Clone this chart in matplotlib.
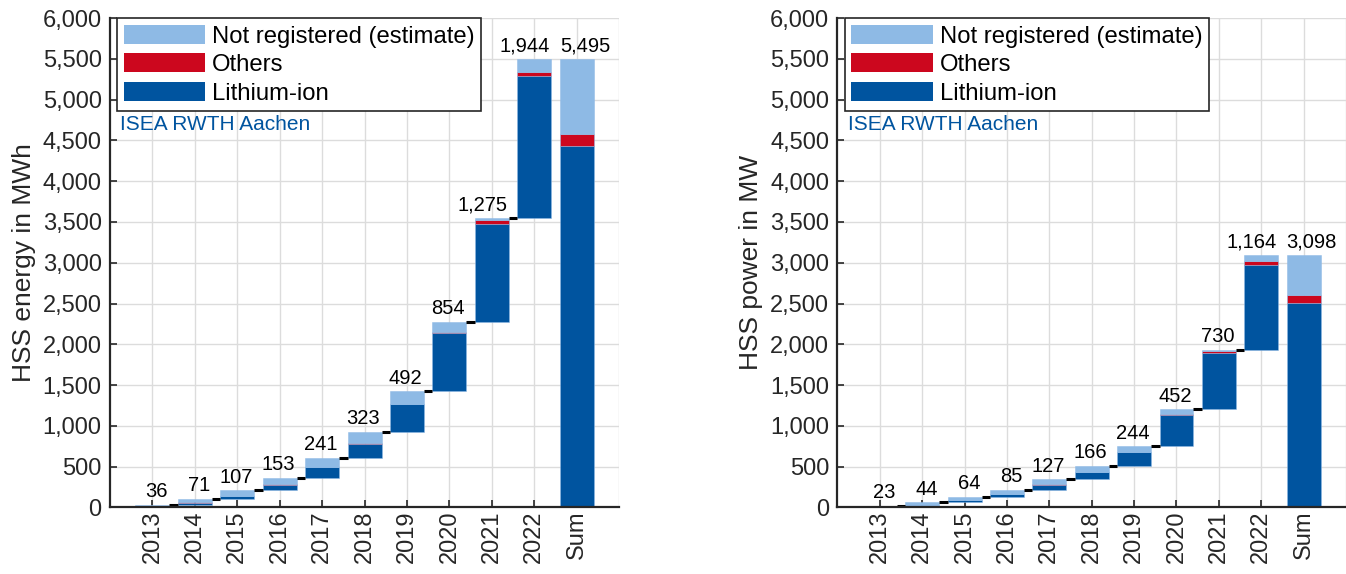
import numpy as np
import matplotlib
matplotlib.use('Agg')
import matplotlib.pyplot as plt
from matplotlib.ticker import FuncFormatter, MultipleLocator
from matplotlib.patches import Patch

plt.rcParams['font.family'] = ['Liberation Sans', 'DejaVu Sans']

years = ['2013', '2014', '2015', '2016', '2017', '2018', '2019', '2020', '2021', '2022']
sum_label = 'Sum'

# Energy (MWh) per year: Lithium-ion, Others, Not registered (estimate)
energy_li = [10, 22, 36, 67, 126, 176, 335, 715, 1202, 1736]
energy_others = [8, 3, 3, 3, 4, 5, 7, 15, 40, 55]
energy_nr = [18, 46, 68, 83, 111, 142, 150, 124, 33, 153]
energy_sum = [4430, 150, 915]   # Li-ion, Others, Not registered

# Power (MW) per year
power_li = [6, 10, 20, 37, 65, 87, 166, 377, 688, 1042]
power_others = [2, 2, 2, 2, 2, 2, 3, 12, 20, 40]
power_nr = [15, 32, 42, 46, 60, 77, 75, 63, 22, 82]
power_sum = [2505, 95, 498]

legend_labels = ['Not registered (estimate)', 'Others', 'Lithium-ion']
source_text = 'ISEA RWTH Aachen'

C_LIGHT = '#8EBAE5'
C_RED = '#CC071E'
C_DARK = '#00549F'
GRID = '#DCDCDC'
AXC = '#262626'


def panel(ax, li, ot, nr, sm, ylabel):
    li = np.array(li, float); ot = np.array(ot, float); nr = np.array(nr, float)
    n = len(years)
    x = np.arange(1, n + 1)
    tot = li + ot + nr
    start = np.concatenate([[0], np.cumsum(tot)[:-1]])
    w = 0.8
    ek = dict(edgecolor=(0.56, 0.73, 0.9, 0.6), linewidth=0.6, zorder=3)
    ax.bar(x, li, bottom=start, width=w, color=C_DARK, **ek)
    ax.bar(x, ot, bottom=start + li, width=w, color=C_RED, **ek)
    ax.bar(x, nr, bottom=start + li + ot, width=w, color=C_LIGHT, **ek)
    xs = n + 1
    ax.bar(xs, sm[0], bottom=0, width=w, color=C_DARK, **ek)
    ax.bar(xs, sm[1], bottom=sm[0], width=w, color=C_RED, **ek)
    ax.bar(xs, sm[2], bottom=sm[0] + sm[1], width=w, color=C_LIGHT, **ek)
    for i in range(n - 1):
        yv = start[i] + tot[i]
        ax.plot([x[i] + w / 2, x[i + 1] - w / 2], [yv, yv], color='black', lw=2.2,
                solid_capstyle='butt', zorder=4)
    for i in range(n):
        ax.annotate(f"{int(round(tot[i])):,}", (x[i] + w / 2, start[i] + tot[i]), xytext=(-1, 2.5),
                    textcoords='offset points', ha='right', va='bottom', fontsize=14.5, zorder=5)
    ax.annotate(f"{int(sum(sm)):,}", (xs - w / 2, sum(sm)), xytext=(0, 2.5),
                textcoords='offset points', ha='left', va='bottom', fontsize=14.5, zorder=5)

    ax.set_xlim(0, n + 2)
    ax.set_ylim(0, 6000)
    ax.set_xticks(list(x) + [xs])
    ax.set_xticklabels(years + [sum_label], rotation=90, fontsize=17)
    ax.yaxis.set_major_locator(MultipleLocator(500))
    ax.yaxis.set_major_formatter(FuncFormatter(lambda v, p: f"{int(v):,}"))
    ax.tick_params(axis='y', labelsize=17, pad=6)
    ax.tick_params(axis='x', pad=2)
    ax.tick_params(direction='in', length=5, width=1.2, color=AXC, labelcolor=AXC)
    ax.grid(True, color=GRID, lw=1, zorder=0)
    ax.axvline(n + 2, color=GRID, lw=1, zorder=0)
    ax.set_axisbelow(True)
    for s in ['top', 'right']:
        ax.spines[s].set_visible(False)
    for s in ['left', 'bottom']:
        ax.spines[s].set_linewidth(1.6)
        ax.spines[s].set_color(AXC)
        ax.spines[s].set_zorder(6)
    ax.set_ylabel(ylabel, fontsize=19, color=AXC, labelpad=5)

    handles = [Patch(facecolor=C_LIGHT), Patch(facecolor=C_RED), Patch(facecolor=C_DARK)]
    leg = ax.legend(handles, legend_labels, loc='upper left', bbox_to_anchor=(0.014, 1.0),
                    borderaxespad=0, fontsize=17.2, handlelength=3.4, handleheight=0.85,
                    labelspacing=0.24, handletextpad=0.3, borderpad=0.28,
                    fancybox=False, framealpha=1, edgecolor=AXC)
    leg.get_frame().set_linewidth(1.2)
    leg.set_zorder(10)
    ax.text(0.02, 0.783, source_text, transform=ax.transAxes, color=C_DARK,
            fontsize=15, ha='left', va='center', zorder=7)


fig = plt.figure(figsize=(13.46, 5.74), dpi=100)
ax1 = fig.add_axes([0.0817, 0.1159, 0.3783, 0.8527])
ax2 = fig.add_axes([0.6222, 0.1159, 0.3778, 0.8527])
panel(ax1, energy_li, energy_others, energy_nr, energy_sum, 'HSS energy in MWh')
panel(ax2, power_li, power_others, power_nr, power_sum, 'HSS power in MW')
fig.savefig('out.png', dpi=100)
